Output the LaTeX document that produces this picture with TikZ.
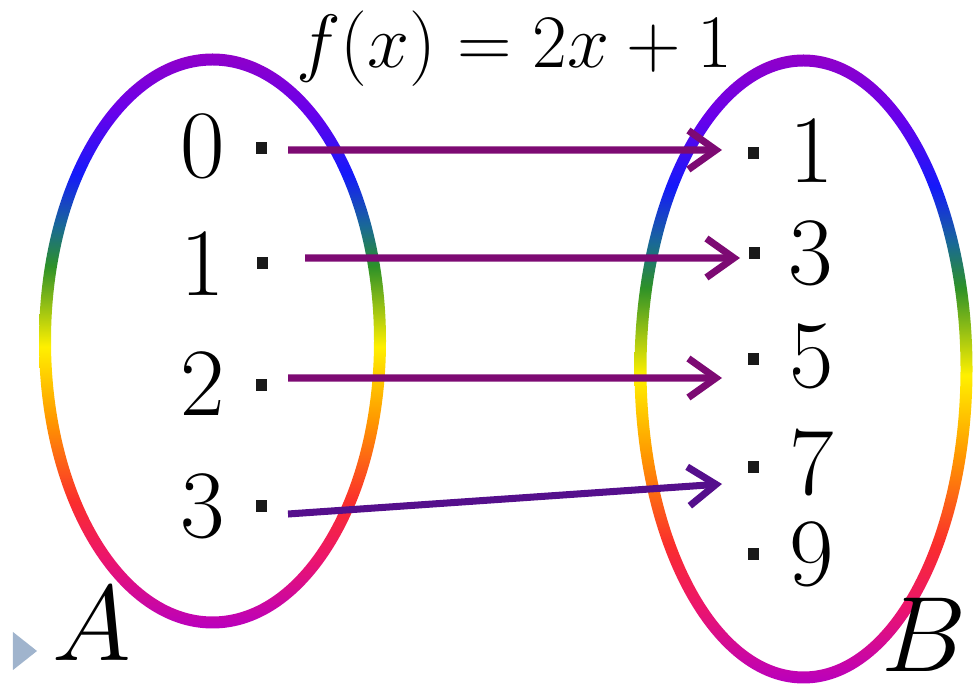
\RequirePackage{fix-cm}
\documentclass[tikz,border=0pt]{standalone}
\usepackage{tikz}
\usetikzlibrary{arrows.meta,calc,positioning}
\definecolor{mapviolet}{RGB}{125,10,115}
\definecolor{mapindigo}{RGB}{85,15,140}
\definecolor{bulletgrey}{RGB}{160,180,205}
\definecolor{rbpurple}{RGB}{145,0,200}
\definecolor{rbviolet}{RGB}{105,0,235}
\definecolor{rbblue}{RGB}{20,25,250}
\definecolor{rbteal}{RGB}{25,105,150}
\definecolor{rbgreen}{RGB}{45,145,40}
\definecolor{rbyellow}{RGB}{255,240,0}
\definecolor{rborange}{RGB}{255,150,0}
\definecolor{rbred}{RGB}{250,45,45}
\definecolor{rbpink}{RGB}{235,20,110}
\definecolor{rbmagenta}{RGB}{185,0,190}
\pgfdeclareverticalshading{rainbowring}{100bp}{%
  color(0bp)=(rbmagenta); color(25bp)=(rbmagenta); color(31bp)=(rbpink);
  color(36bp)=(rbred); color(43bp)=(rborange); color(49.5bp)=(rbyellow);
  color(56.5bp)=(rbgreen); color(60bp)=(rbteal); color(64.5bp)=(rbblue);
  color(70bp)=(rbviolet); color(75bp)=(rbpurple); color(100bp)=(rbpurple)}

\begin{document}
\begin{tikzpicture}[
  elt/.style={inner sep=0pt, font=\fontsize{55}{60}\selectfont},
  setname/.style={inner sep=0pt, font=\fontsize{61}{70}\selectfont},
  pt/.style={rectangle, fill=black!90, inner sep=0pt, minimum width=0.22cm, minimum height=0.24cm},
  map/.style={-{Straight Barb[length=0.55cm, width=0.78cm]}, line width=4pt, mapviolet},
  ring/.style={shading=rainbowring, even odd rule}
]
  \useasboundingbox (0,0) rectangle (19.48,13.68);

  % the two sets
  \coordinate (cA) at (4.25,6.86);
  \coordinate (cB) at (16.07,6.30);
  \shade[ring] (cA) ellipse (3.47 and 5.75) (cA) ellipse (3.23 and 5.51);
  \shade[ring] (cB) ellipse (3.38 and 6.29) (cB) ellipse (3.14 and 6.05);

  \node[font=\fontsize{43}{50}\selectfont, anchor=base] (fx) at (10.28,12.32) {$f(x) = 2x + 1$};

  % domain
  \node[elt] (a0) at (4.06,10.76) {0};
  \node[elt] (a1) at (4.06,8.40)  {1};
  \node[elt] (a2) at (4.06,6.00)  {2};
  \node[elt] (a3) at (4.06,3.56)  {3};
  \node[pt] (p0) at (5.22,10.72) {};
  \node[pt] (p1) at (5.24,8.42)  {};
  \node[pt] (p2) at (5.22,5.98)  {};
  \node[pt] (p3) at (5.22,3.56)  {};

  % codomain
  \node[elt] (b1) at (16.24,10.66) {1};
  \node[elt] (b3) at (16.22,8.62)  {3};
  \node[elt] (b5) at (16.24,6.56)  {5};
  \node[elt] (b7) at (16.24,4.42)  {7};
  \node[elt] (b9) at (16.24,2.60)  {9};
  \node[pt] (q1) at (15.06,10.62) {};
  \node[pt] (q3) at (15.08,8.62)  {};
  \node[pt] (q5) at (15.06,6.50)  {};
  \node[pt] (q7) at (15.06,4.34)  {};
  \node[pt] (q9) at (15.06,2.60)  {};

  \node[setname] (setA) at (1.84,1.20) {$A$};
  \node[setname] (setB) at (18.48,0.98) {$B$};
  \fill[bulletgrey] (0.26,1.04) -- (0.74,0.66) -- (0.26,0.28) -- cycle;

  % f
  \draw[map] ([shift={(0.54,-0.04)}]p0.center) -- ([shift={(-0.62,0.06)}]q1.center);
  \draw[map] ([shift={(0.86,0.10)}]p1.center)  -- ([shift={(-0.28,-0.10)}]q3.center);
  \draw[map] ([shift={(0.54,0.14)}]p2.center)  -- ([shift={(-0.62,-0.38)}]q5.center);
  \draw[map, mapindigo] ([shift={(0.54,-0.16)}]p3.center) -- ([shift={(-0.62,-0.34)}]q7.center);
\end{tikzpicture}
\end{document}
